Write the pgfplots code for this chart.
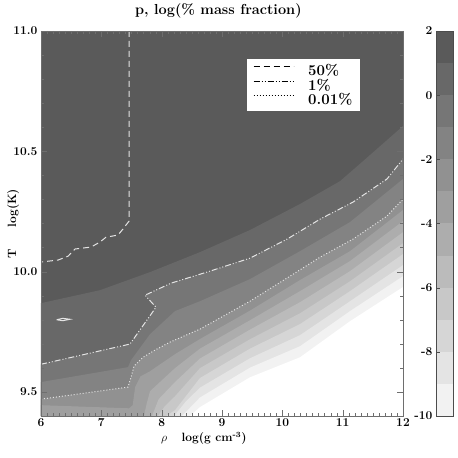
\documentclass[border=0pt]{standalone}
\usepackage{pgfplots}
\pgfplotsset{compat=1.18}

\begin{document}
\begin{tikzpicture}

\definecolor{b0}{RGB}{90,90,90}
\definecolor{b1}{RGB}{104,104,104}
\definecolor{b2}{RGB}{118,118,118}
\definecolor{b3}{RGB}{131,131,131}
\definecolor{b4}{RGB}{145,145,145}
\definecolor{b5}{RGB}{159,159,159}
\definecolor{b6}{RGB}{173,173,173}
\definecolor{b7}{RGB}{187,187,187}
\definecolor{b8}{RGB}{200,200,200}
\definecolor{b9}{RGB}{214,214,214}
\definecolor{b10}{RGB}{228,228,228}
\definecolor{b11}{RGB}{242,242,242}
\definecolor{cline}{RGB}{228,228,228}
\definecolor{framegray}{RGB}{110,110,110}

\path[use as bounding box] (-41pt,-42pt) rectangle (417pt,416pt);

\begin{axis}[
scale only axis,
width=362pt, height=385pt,
xmin=6, xmax=12, ymin=9.4, ymax=11.0,
axis on top,
axis background/.style={fill=b0},
axis line style={framegray},
tick style={framegray},
major tick length=6pt, minor tick length=3pt,
xtick={6,7,8,9,10,11,12},
ytick={9.5,10.0,10.5,11.0},
minor x tick num=9,
minor y tick num=4,
/pgf/number format/assume math mode=true,
tick label style={font=\fontsize{12}{14}\selectfont\bfseries},
yticklabel style={/pgf/number format/.cd, fixed, fixed zerofill, precision=1},
xticklabel style={yshift=1pt},
title={p, log(\% mass fraction)},
title style={font=\fontsize{14.5}{16}\selectfont\bfseries, at={(axis description cs:0.49,1)}, anchor=south, yshift=3pt},
xlabel={$\rho$\hspace{1.2em}log(g cm\textsuperscript{-3})},
xlabel style={font=\fontsize{12}{14}\selectfont\bfseries, at={(axis description cs:0.45,-0.058)}, anchor=center},
ylabel={T\hspace{1.8em}log(K)},
ylabel style={font=\fontsize{12}{14}\selectfont\bfseries, at={(axis description cs:-0.077,0.5)}, anchor=center},
legend cell align=left,
legend style={at={(axis cs:9.415,10.884)}, anchor=north west, draw=none, fill=white,
  font=\fontsize{15}{15}\selectfont\bfseries, inner xsep=6pt, inner ysep=3pt, row sep=-2pt,
  /tikz/every odd column/.style={column sep=12pt}},
legend image code/.code={\draw[#1,black] (0pt,4pt) -- (40pt,4pt);},
]

% filled bands, from the highest level down
\addplot[fill=b1, draw=none, forget plot] coordinates {(6,9.869) (6.978,9.923) (7.807,9.998) (8.635,10.081) (9.464,10.173) (10.293,10.281) (10.956,10.376) (11.337,10.459) (12,10.605) (12,9.4) (6,9.4)} --cycle;
\addplot[fill=b2, draw=none, forget plot] coordinates {(6,9.615) (7.475,9.699) (7.906,9.852) (7.724,9.902) (8.155,9.952) (8.801,10.002) (9.464,10.056) (10.078,10.135) (10.625,10.218) (11.172,10.289) (11.735,10.385) (12,10.468) (12,9.4) (6,9.4)} --cycle;
\addplot[fill=b3, draw=none, forget plot] coordinates {(6,9.541) (7.442,9.603) (7.492,9.632) (7.807,9.740) (8.221,9.836) (8.635,9.877) (9.464,9.969) (10.293,10.085) (11.122,10.206) (12,10.385) (12,9.4) (6,9.4)} --cycle;
\addplot[fill=b4, draw=none, forget plot] coordinates {(6,9.470) (7.442,9.520) (7.492,9.561) (7.541,9.607) (7.691,9.644) (7.890,9.674) (8.138,9.707) (8.635,9.761) (9.464,9.877) (10.127,9.981) (10.625,10.060) (11.172,10.135) (11.735,10.231) (12,10.301) (12,9.4) (6,9.4)} --cycle;
\addplot[fill=b5, draw=none, forget plot] coordinates {(6,9.445) (7.46,9.432) (7.52,9.445) (7.56,9.52) (7.65,9.565) (7.807,9.586) (8.221,9.657) (8.635,9.720) (9.464,9.838) (10.293,9.965) (11.122,10.085) (12,10.256) (12,9.4) (6,9.4)} --cycle;
\addplot[fill=b6, draw=none, forget plot] coordinates {(7.707,9.4) (7.75,9.45) (7.807,9.503) (8.221,9.599) (8.635,9.680) (9.464,9.798) (10.293,9.919) (11.122,10.044) (12,10.210) (12,9.4)} --cycle;
\addplot[fill=b7, draw=none, forget plot] coordinates {(7.84,9.4) (7.95,9.47) (8.221,9.541) (8.635,9.639) (9.464,9.759) (10.293,9.873) (11.122,10.002) (12,10.164) (12,9.4)} --cycle;
\addplot[fill=b8, draw=none, forget plot] coordinates {(7.939,9.4) (8.05,9.44) (8.221,9.482) (8.635,9.599) (9.464,9.719) (10.293,9.827) (11.122,9.960) (12,10.118) (12,9.4)} --cycle;
\addplot[fill=b9, draw=none, forget plot] coordinates {(8.072,9.4) (8.221,9.424) (8.635,9.558) (9.464,9.680) (10.293,9.782) (11.122,9.919) (12,10.073) (12,9.4)} --cycle;
\addplot[fill=b10, draw=none, forget plot] coordinates {(8.205,9.4) (8.4,9.46) (8.635,9.518) (9.464,9.640) (10.293,9.736) (11.122,9.877) (12,10.027) (12,9.4)} --cycle;
\addplot[fill=b11, draw=none, forget plot] coordinates {(8.337,9.4) (8.635,9.477) (9.464,9.601) (10.293,9.690) (11.122,9.836) (12,9.981) (12,9.4)} --cycle;
\addplot[fill=white, draw=none, forget plot] coordinates {(8.470,9.4) (8.635,9.437) (9.464,9.561) (10.293,9.644) (11.122,9.794) (12,9.936) (12,9.4)} --cycle;

% contour lines
\addplot[cline, line width=1pt, dash pattern=on 6pt off 4pt] coordinates {
(7.459,11.0) (7.459,10.210) (7.359,10.177) (7.276,10.152) (7.077,10.143) (6.978,10.123) (6.829,10.102) (6.564,10.094) (6.448,10.064) (6.282,10.048) (6,10.040)};
\addlegendentry{50\%}
\addplot[cline, line width=1pt, dash pattern=on 6pt off 2pt on 1pt off 2pt on 1pt off 2pt] coordinates {
(6,9.615) (7.475,9.699) (7.906,9.852) (7.724,9.902) (8.155,9.952) (8.801,10.002) (9.464,10.056) (10.078,10.135) (10.625,10.218) (11.172,10.289) (11.735,10.385) (12,10.468)};
\addlegendentry{1\%}
\addplot[cline, line width=1pt, dash pattern=on 1pt off 2pt] coordinates {
(6,9.470) (7.442,9.520) (7.492,9.561) (7.541,9.607) (7.691,9.644) (7.890,9.674) (8.138,9.707) (8.635,9.761) (9.464,9.877) (10.127,9.981) (10.625,10.060) (11.172,10.135) (11.735,10.231) (12,10.301)};
\addlegendentry{0.01\%}
\addplot[cline, line width=1pt, forget plot] coordinates {(6.26,9.800) (6.36,9.806) (6.48,9.802) (6.36,9.796) (6.26,9.800)};

\end{axis}

% colour scale
\begin{axis}[
at={(395pt,0pt)}, anchor=south west,
scale only axis,
width=17pt, height=385pt,
xmin=0, xmax=1, ymin=-10, ymax=2,
xtick=\empty,
ytick={-10,-8,-6,-4,-2,0,2},
yticklabel pos=left,
ytick pos=left,
axis on top,
axis line style={black!70},
tick style={black!70},
major tick length=4pt,
/pgf/number format/assume math mode=true,
yticklabel style={font=\fontsize{12}{14}\selectfont\bfseries},
]
\addplot[fill=b11, draw=none] coordinates {(0,-10) (1,-10) (1,-9) (0,-9)} --cycle;
\addplot[fill=b10, draw=none] coordinates {(0,-9) (1,-9) (1,-8) (0,-8)} --cycle;
\addplot[fill=b9, draw=none] coordinates {(0,-8) (1,-8) (1,-7) (0,-7)} --cycle;
\addplot[fill=b8, draw=none] coordinates {(0,-7) (1,-7) (1,-6) (0,-6)} --cycle;
\addplot[fill=b7, draw=none] coordinates {(0,-6) (1,-6) (1,-5) (0,-5)} --cycle;
\addplot[fill=b6, draw=none] coordinates {(0,-5) (1,-5) (1,-4) (0,-4)} --cycle;
\addplot[fill=b5, draw=none] coordinates {(0,-4) (1,-4) (1,-3) (0,-3)} --cycle;
\addplot[fill=b4, draw=none] coordinates {(0,-3) (1,-3) (1,-2) (0,-2)} --cycle;
\addplot[fill=b3, draw=none] coordinates {(0,-2) (1,-2) (1,-1) (0,-1)} --cycle;
\addplot[fill=b2, draw=none] coordinates {(0,-1) (1,-1) (1,0) (0,0)} --cycle;
\addplot[fill=b1, draw=none] coordinates {(0,0) (1,0) (1,1) (0,1)} --cycle;
\addplot[fill=b0, draw=none] coordinates {(0,1) (1,1) (1,2) (0,2)} --cycle;
\end{axis}

\end{tikzpicture}
\end{document}
